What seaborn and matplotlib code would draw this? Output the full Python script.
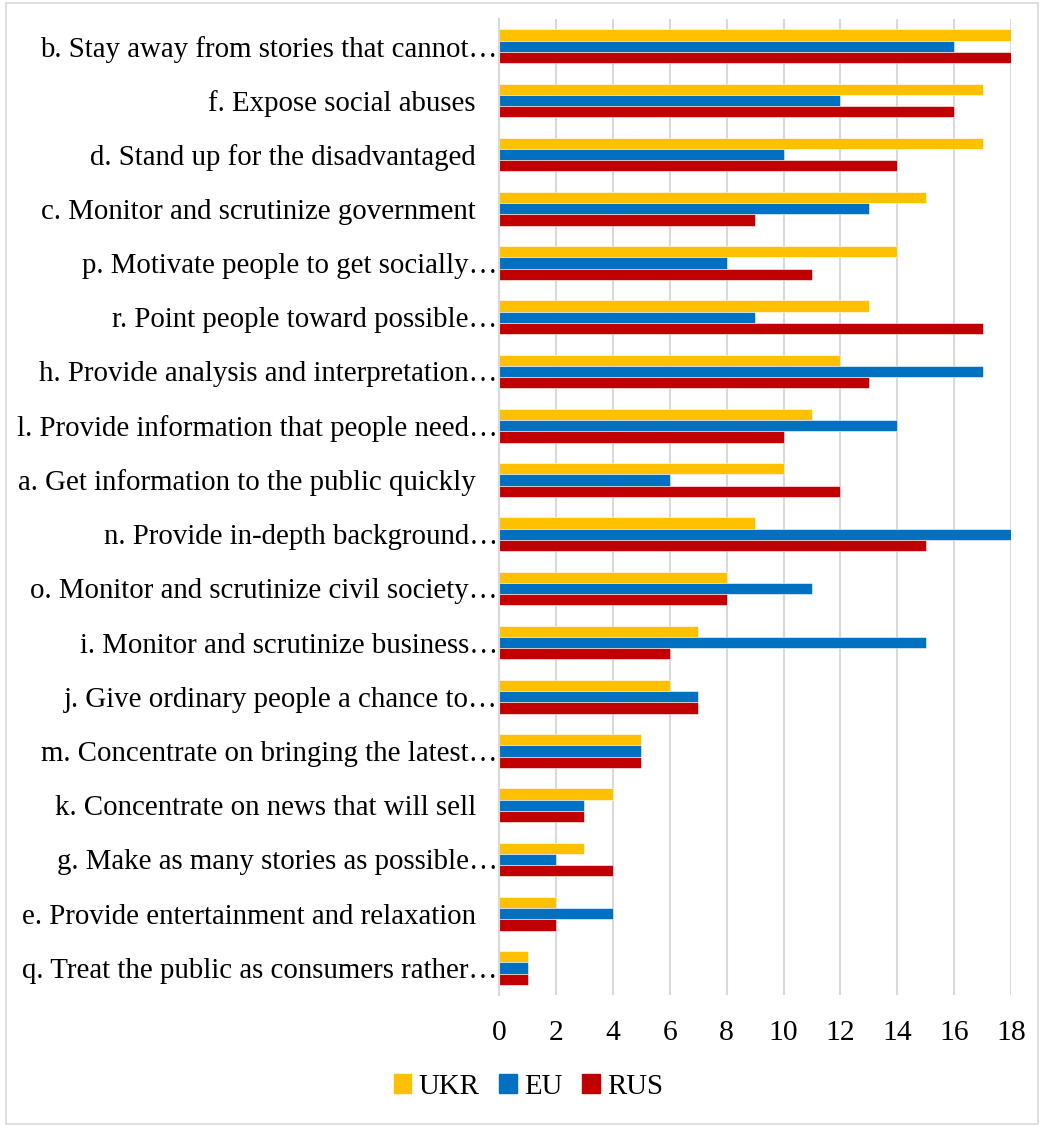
import numpy as np
import pandas as pd
import matplotlib
matplotlib.use("Agg")
import matplotlib.pyplot as plt
import seaborn as sns
from matplotlib.patches import Rectangle

categories = [
    "b. Stay away from stories that cannot…",
    "f. Expose social abuses   ",
    "d. Stand up for the disadvantaged   ",
    "c. Monitor and scrutinize government   ",
    "p. Motivate people to get socially…",
    "r. Point people toward possible…",
    "h. Provide analysis and interpretation…",
    "l. Provide information that people need…",
    "a. Get information to the public quickly   ",
    "n. Provide in-depth background…",
    "o. Monitor and scrutinize civil society…",
    "i. Monitor and scrutinize business…",
    "j. Give ordinary people a chance to…",
    "m. Concentrate on bringing the latest…",
    "k. Concentrate on news that will sell   ",
    "g. Make as many stories as possible…",
    "e. Provide entertainment and relaxation   ",
    "q. Treat the public as consumers rather…",
]
ukr = [18, 17, 17, 15, 14, 13, 12, 11, 10, 9, 8, 7, 6, 5, 4, 3, 2, 1]
eu = [16, 12, 10, 13, 8, 9, 17, 14, 6, 18, 11, 15, 7, 5, 3, 2, 4, 1]
rus = [18, 16, 14, 9, 11, 17, 13, 10, 12, 15, 8, 6, 7, 5, 3, 4, 2, 1]
series = ["UKR", "EU", "RUS"]
colors = ["#FFC000", "#0070C0", "#C00000"]
xticks = [0, 2, 4, 6, 8, 10, 12, 14, 16, 18]

df = pd.DataFrame({
    "cat": categories * 3,
    "value": ukr + eu + rus,
    "series": [s for s in series for _ in categories],
})

sns.set_theme(style="white")
plt.rcParams["font.family"] = ["Liberation Serif", "DejaVu Serif"]
plt.rcParams["text.color"] = "black"
plt.rcParams["xtick.color"] = "black"
plt.rcParams["ytick.color"] = "black"
FS = 20.8

fig = plt.figure(figsize=(10.42, 11.26), dpi=100)
ax = fig.add_axes([0.479, 0.1163, 0.4914, 0.8668])

sns.barplot(data=df, y="cat", x="value", hue="series", order=categories,
            hue_order=series, palette=colors, orient="h", width=0.62,
            gap=0, ax=ax, legend=False, saturation=1,
            edgecolor="white", linewidth=0.4)

ax.set_xlim(0, 18.0)
ax.set_ylim(len(categories) - 0.5, -0.5)
ax.set_xticks(xticks)
ax.set_xticklabels([str(t) for t in xticks], fontsize=21.3, color="black")
ax.set_yticklabels(categories, fontsize=FS, color="black")
ax.tick_params(axis="y", length=0, pad=1)
ax.tick_params(axis="x", length=0, pad=18)
ax.set_xlabel("")
ax.set_ylabel("")
ax.grid(axis="x", color="#d9d9d9", linewidth=1.5)
ax.set_axisbelow(True)
for s in ["top", "right", "bottom"]:
    ax.spines[s].set_visible(False)
ax.spines["left"].set_color("#d9d9d9")
ax.spines["left"].set_linewidth(1.5)

handles = [Rectangle((0, 0), 1, 1, color=c) for c in colors]
leg = fig.legend(handles, series, loc="center", bbox_to_anchor=(0.507, 0.035),
                 ncol=3, frameon=False, fontsize=FS, handlelength=0.6,
                 handleheight=0.6, handletextpad=0.25, columnspacing=0.7)
for t in leg.get_texts():
    t.set_color("black")

border = Rectangle((0.006, 0.002), 0.99, 0.995, transform=fig.transFigure,
                   fill=False, edgecolor="#d9d9d9", linewidth=1.2)
fig.patches.append(border)

fig.savefig("out.png", dpi=100, facecolor="white")
